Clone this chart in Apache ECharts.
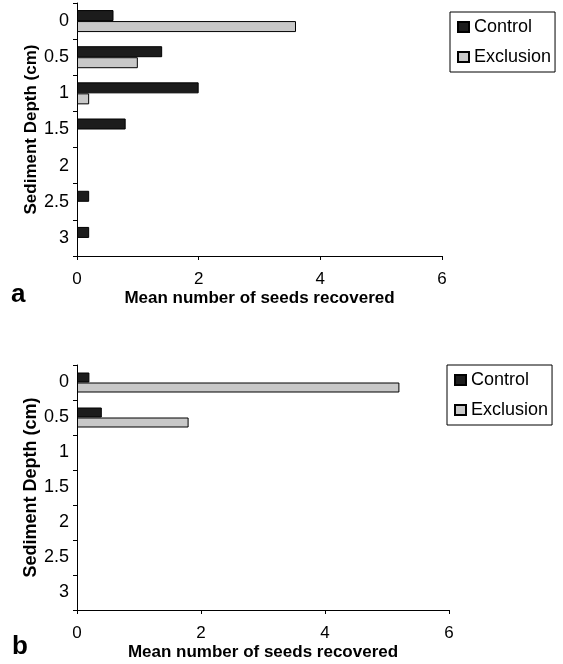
<!DOCTYPE html>
<html>
<head>
<meta charset="utf-8">
<script src="https://cdn.jsdelivr.net/npm/echarts@6/dist/echarts.min.js"></script>
<style>
html,body{margin:0;padding:0;background:#fff;}
#c{width:563px;height:664px;}
</style>
</head>
<body>
<div id="c"></div>
<script>
var depths = ['0', '0.5', '1', '1.5', '2', '2.5', '3'];
var controlA = [0.6, 1.4, 2.0, 0.8, 0, 0.2, 0.2];
var exclusionA = [3.6, 1.0, 0.2, 0, 0, 0, 0];
var controlB = [0.2, 0.4, 0, 0, 0, 0, 0];
var exclusionB = [5.2, 1.8, 0, 0, 0, 0, 0];
var xTicks = [0, 2, 4, 6];

var FONT = "'Liberation Sans', Arial, sans-serif";
var chart = echarts.init(document.getElementById('c'), null, {renderer: 'canvas'});

function prep(arr) {
  return arr.map(function (v) { return v === 0 ? {value: 0, itemStyle: {borderWidth: 0, opacity: 0}} : v; });
}
function xAx(idx) {
  return {
    gridIndex: idx, type: 'value', min: xTicks[0], max: xTicks[xTicks.length - 1], interval: 2,
    axisLine: {show: true, lineStyle: {color: '#000', width: 1}},
    axisTick: {show: true, length: 4, lineStyle: {color: '#000'}},
    splitLine: {show: false},
    axisLabel: {color: '#000', fontSize: 17, fontFamily: FONT, margin: 15},
    name: 'Mean number of seeds recovered', nameLocation: 'middle', nameGap: 34,
    nameMoveOverlap: false,
    nameTextStyle: {color: '#000', fontSize: 17, fontWeight: 'bold', fontFamily: FONT}
  };
}
function yAx(idx, fs) {
  return {
    gridIndex: idx, type: 'category', data: depths, inverse: true,
    axisLine: {show: true, lineStyle: {color: '#000', width: 1}},
    axisTick: {show: true, length: 4, lineStyle: {color: '#000'}},
    axisLabel: {color: '#000', fontSize: 18, fontFamily: FONT, margin: 8},
    name: 'Sediment Depth (cm)', nameLocation: 'middle', nameGap: 37, nameRotate: 90,
    nameMoveOverlap: false,
    nameTextStyle: {color: '#000', fontSize: fs, fontWeight: 'bold', fontFamily: FONT}
  };
}
function legend(left, top) {
  return {
    left: left, top: top, orient: 'vertical', data: ['Control', 'Exclusion'],
    borderColor: '#000', borderWidth: 1, borderRadius: 0, padding: [6, 4, 6, 7],
    itemWidth: 11, itemHeight: 10, itemGap: 12, icon: 'rect',
    textStyle: {color: '#000', fontSize: 18, fontFamily: FONT}
  };
}
var ctrlStyle = {color: '#1c1c1c', borderColor: '#000', borderWidth: 1};
var exclStyle = {color: '#c8c8c8', borderColor: '#000', borderWidth: 1};

chart.setOption({
  animation: false,
  backgroundColor: '#fff',
  grid: [
    {left: 77, right: 121, top: 3, bottom: 408},
    {left: 77, right: 114, top: 365, bottom: 54}
  ],
  xAxis: [xAx(0), xAx(1)],
  yAxis: [yAx(0, 17), yAx(1, 18)],
  legend: [legend(450, 12), legend(447, 365)],
  series: [
    {name: 'Control', type: 'bar', xAxisIndex: 0, yAxisIndex: 0, data: prep(controlA), barWidth: 11, barGap: '0%', itemStyle: ctrlStyle},
    {name: 'Exclusion', type: 'bar', xAxisIndex: 0, yAxisIndex: 0, data: prep(exclusionA), barWidth: 11, barGap: '0%', itemStyle: exclStyle},
    {name: 'Control', type: 'bar', xAxisIndex: 1, yAxisIndex: 1, data: prep(controlB), barWidth: 10, barGap: '0%', itemStyle: ctrlStyle},
    {name: 'Exclusion', type: 'bar', xAxisIndex: 1, yAxisIndex: 1, data: prep(exclusionB), barWidth: 10, barGap: '0%', itemStyle: exclStyle}
  ],
  graphic: [
    {type: 'text', left: 11, top: 282, style: {text: 'a', fontSize: 26, fontWeight: 'bold', fontFamily: FONT, fill: '#000'}},
    {type: 'text', left: 12, top: 634, style: {text: 'b', fontSize: 26, fontWeight: 'bold', fontFamily: FONT, fill: '#000'}}
  ]
});
</script>
</body>
</html>
